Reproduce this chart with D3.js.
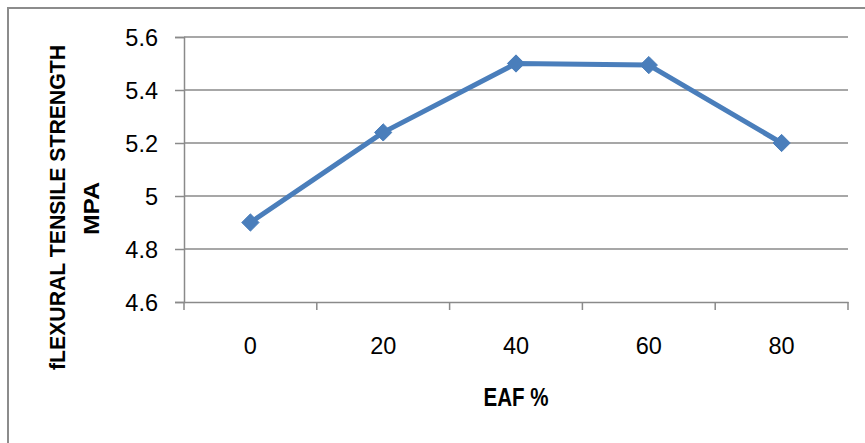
<!DOCTYPE html>
<html><head><meta charset="utf-8">
<script src="https://cdn.jsdelivr.net/npm/d3@7"></script>
<style>body{margin:0;background:#fff}</style>
</head><body>
<svg id="c" width="865" height="443"></svg>
<script>
const categories = ["0", "20", "40", "60", "80"];
const values = [4.9, 5.24, 5.5, 5.494, 5.2];
const yTicks = [4.6, 4.8, 5, 5.2, 5.4, 5.6];
const yTitle = ["fLEXURAL TENSILE STRENGTH", "MPA"];
const xTitle = "EAF %";

const svg = d3.select("#c");
const font = "'Liberation Sans Narrow','Arial Narrow','Liberation Sans',Arial,sans-serif";
const m = {l: 184, r: 848, t: 37, b: 302};

svg.append("rect").attr("x", 8).attr("y", 8).attr("width", 870).attr("height", 450)
  .attr("fill", "#fff").attr("stroke", "#8c8c8c").attr("stroke-width", 2);

const x = d3.scaleBand().domain(categories).range([m.l, m.r]);
const y = d3.scaleLinear().domain([4.6, 5.6]).range([m.b, m.t]);

// gridlines
svg.append("g").selectAll("line").data(yTicks.slice(1)).join("line")
  .attr("x1", m.l).attr("x2", m.r).attr("y1", d => y(d)).attr("y2", d => y(d))
  .attr("stroke", "#8a8a8a").attr("stroke-width", 1.5);

// y axis
const ya = svg.append("g").attr("transform", `translate(${m.l},0)`)
  .call(d3.axisLeft(y).tickValues(yTicks).tickSize(9).tickPadding(17).tickFormat(d3.format("")));
ya.select(".domain").attr("stroke", "#8a8a8a").attr("stroke-width", 1.5);
ya.selectAll(".tick line").attr("stroke", "#8a8a8a").attr("stroke-width", 1.5);
ya.selectAll("text").attr("font-family", font).attr("font-size", 23.5).attr("fill", "#000")
  .attr("dy", "0.38em");

// x axis
const xa = svg.append("g").attr("transform", `translate(0,${m.b})`)
  .call(d3.axisBottom(x).tickSize(0).tickPadding(35));
xa.select(".domain").attr("stroke", "#8a8a8a").attr("stroke-width", 1.5);
xa.selectAll("text").attr("font-family", font).attr("font-size", 23.5).attr("fill", "#000");
// category boundary ticks
const bounds = categories.map(c => x(c)).concat([x.range()[1]]);
svg.append("g").selectAll("line").data(bounds).join("line")
  .attr("x1", d => d).attr("x2", d => d).attr("y1", m.b).attr("y2", m.b + 8)
  .attr("stroke", "#8a8a8a").attr("stroke-width", 1.5);

// line
const line = d3.line().x((d, i) => x(categories[i]) + x.bandwidth() / 2).y(d => y(d));
svg.append("path").datum(values).attr("d", line)
  .attr("fill", "none").attr("stroke", "#4a7ebb").attr("stroke-width", 5)
  .attr("stroke-linejoin", "round");

// diamonds
svg.append("g").selectAll("path").data(values).join("path")
  .attr("transform", (d, i) => `translate(${x(categories[i]) + x.bandwidth() / 2},${y(d)})`)
  .attr("d", d3.symbol().type(d3.symbolDiamond2).size(190))
  .attr("fill", "#4a7ebb").attr("stroke", "#4a7ebb").attr("stroke-width", 1);

// titles
const yt = svg.append("text").attr("transform", "rotate(-90)")
  .attr("font-family", font).attr("font-size", 22).attr("font-weight", "bold")
  .attr("text-anchor", "middle");
yt.append("tspan").attr("x", -207.5).attr("y", 65).attr("textLength", 325)
  .attr("lengthAdjust", "spacingAndGlyphs").text(yTitle[0]);
yt.append("tspan").attr("x", -208.5).attr("y", 99).attr("textLength", 53)
  .attr("lengthAdjust", "spacingAndGlyphs").text(yTitle[1]);

svg.append("text").attr("x", x(categories[2]) + x.bandwidth() / 2).attr("y", 406)
  .attr("font-family", font).attr("font-size", 25).attr("font-weight", "bold")
  .attr("text-anchor", "middle").attr("textLength", 65)
  .attr("lengthAdjust", "spacingAndGlyphs").text(xTitle);
</script>
</body></html>
